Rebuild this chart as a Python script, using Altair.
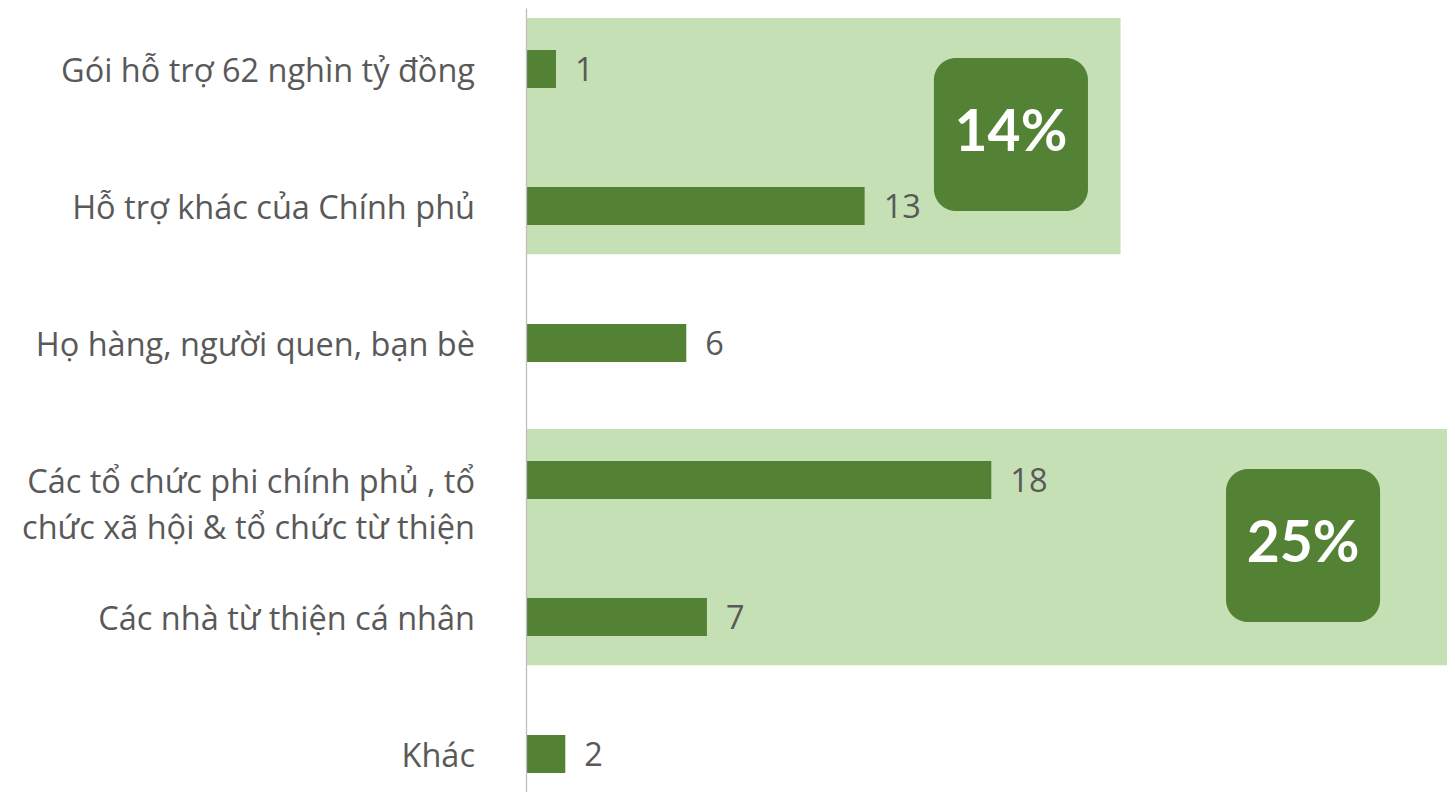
import altair as alt
import pandas as pd

# ---- data ----
categories = [
    "Gói hỗ trợ 62 nghìn tỷ đồng",
    "Hỗ trợ khác của Chính phủ",
    "Họ hàng, người quen, bạn bè",
    "Các tổ chức phi chính phủ , tổ\nchức xã hội & tổ chức từ thiện",
    "Các nhà từ thiện cá nhân",
    "Khác",
]
values = [1.16, 13.1, 6.2, 18.0, 7.0, 1.52]

group_first = [0, 3]
group_last = [1, 4]
group_x_end = [23.0, 36.0]
badge_text = ["14%", "25%"]
badge_x = [18.76, 30.06]

# ---- styling ----
DARK = "#548235"
LIGHT = "#c5e0b4"
GRAY = "#595959"
FONT = "Open Sans"
BFONT = "Lato"
FS = 32.5

W = 921
X_MAX = W / 25.85
Y_DOM = [-61 / 137, -61 / 137 + 784 / 137]

bars_df = pd.DataFrame({"row": list(range(len(categories))),
                        "category": categories, "value": values})
grp_df = pd.DataFrame({"first": group_first, "last": group_last,
                       "xend": group_x_end, "badge": badge_text,
                       "bx": badge_x})

xs = alt.Scale(domain=[0, X_MAX], nice=False, zero=False)
ys = alt.Scale(domain=Y_DOM, nice=False, zero=False, reverse=True)

xq = lambda f: alt.X(f, type="quantitative", scale=xs, axis=None)
yq = lambda f: alt.Y(f, type="quantitative", scale=ys,
                     axis=alt.Axis(labels=False, ticks=False, grid=False,
                                   title=None, domainColor="#bfbfbf",
                                   domainWidth=1.3, zindex=1))

bg = alt.Chart(grp_df).transform_calculate(
    y0="datum.first - 0.372", y1="datum.last + 0.352", x0="0"
).mark_rect(color=LIGHT, clip=True).encode(
    x=xq("x0:Q"), x2="xend:Q", y=yq("y0:Q"), y2="y1:Q"
)

bars = alt.Chart(bars_df).transform_calculate(
    y0="datum.row - 0.1387", y1="datum.row + 0.1387", x0="0"
).mark_rect(color=DARK).encode(
    x=xq("x0:Q"), x2="value:Q", y=yq("y0:Q"), y2="y1:Q"
)

vlabels = alt.Chart(bars_df).mark_text(
    align="left", baseline="middle", dx=19, dy=2,
    font=FONT, fontSize=FS, color=GRAY
).encode(
    x=xq("value:Q"), y=yq("row:Q"), text=alt.Text("value:Q", format=".0f")
)

clabels = alt.Chart(bars_df).mark_text(
    align="right", baseline="alphabetic", dy=13, lineBreak="\n",
    lineHeight=46, font=FONT, fontSize=FS, color=GRAY
).encode(
    x=alt.value(-51), y=yq("row:Q"), text="category:N"
)

badges = alt.Chart(grp_df).transform_calculate(
    yc="(datum.first + datum.last) / 2 - 0.022",
    y0="datum.yc - 0.558", y1="datum.yc + 0.558",
    x0="datum.bx - 2.98", x1="datum.bx + 2.98"
).mark_rect(color=DARK, cornerRadius=22).encode(
    x=xq("x0:Q"), x2="x1:Q", y=yq("y0:Q"), y2="y1:Q"
)

btext = alt.Chart(grp_df).transform_calculate(
    yc="(datum.first + datum.last) / 2 - 0.022"
).mark_text(
    align="center", baseline="middle", font=BFONT, fontSize=57,
    fontWeight="bold", color="white"
).encode(
    x=xq("bx:Q"), y=yq("yc:Q"), text="badge:N"
)

chart = alt.layer(bg, bars, vlabels, clabels, badges, btext).properties(
    width=W, height=784,
    autosize=alt.AutoSizeParams(type="none"),
    padding={"left": 518, "top": 0, "right": 0, "bottom": 0},
).configure_view(stroke=None)

chart.save("out.html", embed_options={"renderer": "svg", "actions": False})
